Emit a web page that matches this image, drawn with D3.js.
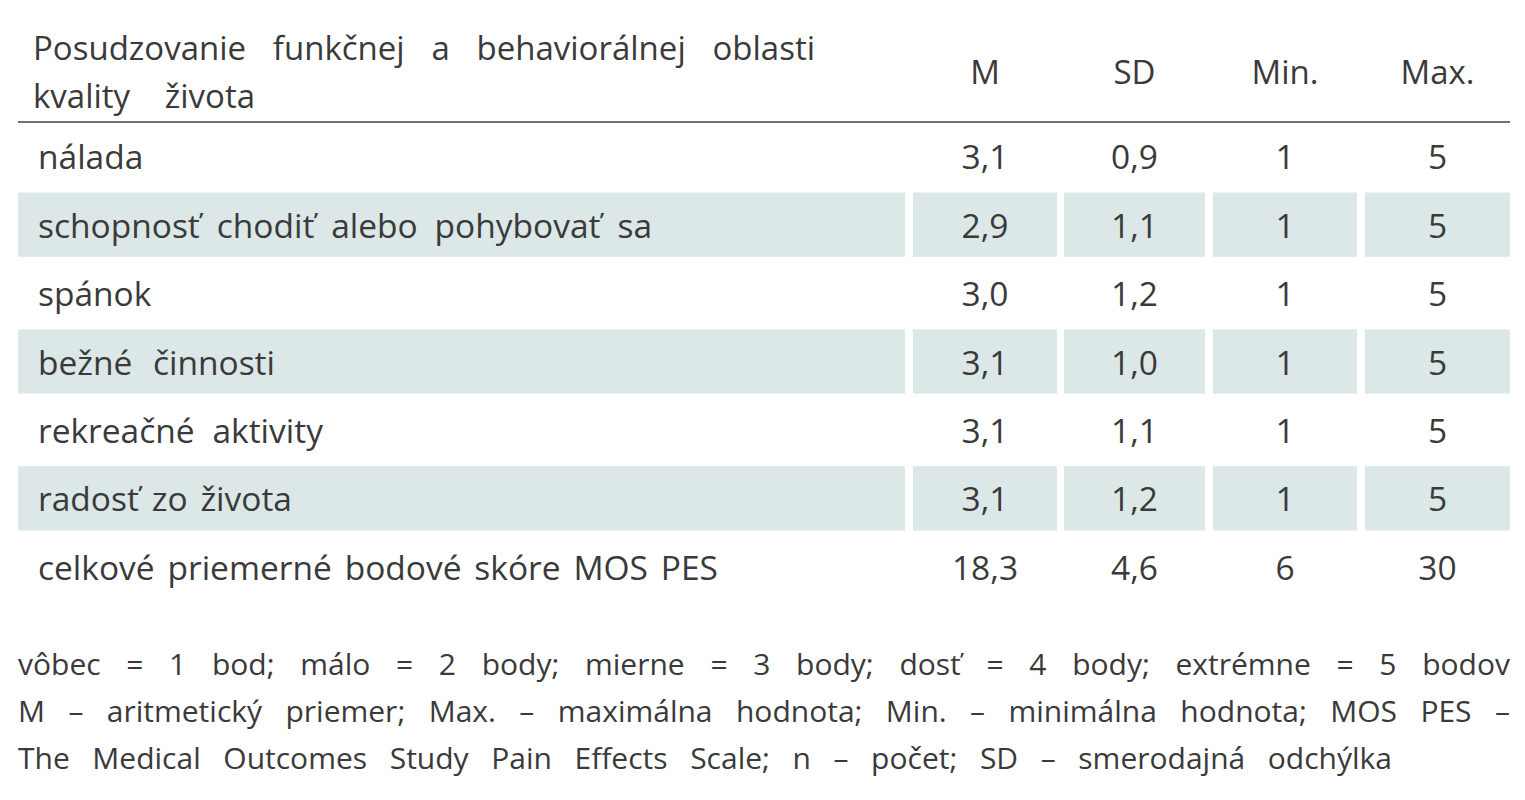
<!DOCTYPE html>
<html><head><meta charset="utf-8">
<script src="https://cdn.jsdelivr.net/npm/d3@7"></script>
<style>body{margin:0;background:#fff}</style></head>
<body><svg id="c" width="1525" height="800"></svg>
<script>
const headerLines = ["Posudzovanie funkčnej a behaviorálnej oblasti","kvality života"];
const columns = ["M","SD","Min.","Max."];
const categories = ["nálada","schopnosť chodiť alebo pohybovať sa","spánok","bežné činnosti","rekreačné aktivity","radosť zo života","celkové priemerné bodové skóre MOS PES"];
const M = ["3,1","2,9","3,0","3,1","3,1","3,1","18,3"];
const SD = ["0,9","1,1","1,2","1,0","1,1","1,2","4,6"];
const MIN = ["1","1","1","1","1","1","6"];
const MAX = ["5","5","5","5","5","5","30"];
const notes = ["vôbec = 1 bod; málo = 2 body; mierne = 3 body; dosť = 4 body; extrémne = 5 bodov",
"M – aritmetický priemer; Max. – maximálna hodnota; Min. – minimálna hodnota; MOS PES –",
"The Medical Outcomes Study Pain Effects Scale; n – počet; SD – smerodajná odchýlka"];
const svg = d3.select("#c");
const font = "'Open Sans', 'Noto Sans', sans-serif", col = "#3a3a3a";
const y = d3.scaleBand().domain(d3.range(categories.length)).range([122, 601]).paddingInner(0.06).paddingOuter(0.03);
const cols = [[18,905],[913,1057],[1064,1205],[1213,1357],[1365,1510]];
const vals = [M,SD,MIN,MAX];
function fit(el, target){ const n=(el.text().match(/ /g)||[]).length; const l=el.node().getComputedTextLength(); if(n) el.attr("word-spacing",(target-l)/n); }
svg.append("line").attr("x1",18).attr("x2",1510).attr("y1",122).attr("y2",122).attr("stroke","#444").attr("stroke-width",1.5);
headerLines.forEach((t,i)=>{const e=svg.append("text").attr("x",33).attr("y",47+i*48).attr("dominant-baseline","central")
  .attr("font-family",font).attr("font-size",33).attr("fill",col).text(t); fit(e,[782,222][i]);});
columns.forEach((t,i)=>svg.append("text").attr("x",(cols[i+1][0]+cols[i+1][1])/2).attr("y",71).attr("text-anchor","middle")
  .attr("dominant-baseline","central").attr("font-family",font).attr("font-size",33).attr("fill",col).text(t));
const widths=[105,614,90,237,285,254,680];
categories.forEach((c,r)=>{
  if(r%2===1) cols.forEach(([a,b])=>svg.append("rect").attr("x",a).attr("width",b-a).attr("y",y(r)).attr("height",y.bandwidth()).attr("fill","#dce7e7"));
  const cy = y(r)+y.bandwidth()/2;
  const e=svg.append("text").attr("x",38).attr("y",cy).attr("dominant-baseline","central").attr("font-family",font).attr("font-size",33.5).attr("fill",col).text(c);
  fit(e,widths[r]);
  vals.forEach((v,i)=>svg.append("text").attr("x",(cols[i+1][0]+cols[i+1][1])/2).attr("y",cy).attr("text-anchor","middle")
    .attr("dominant-baseline","central").attr("font-family",font).attr("font-size",33.5).attr("fill",col).text(v[r]));
});
notes.forEach((t,i)=>{
  const el = svg.append("text").attr("x",18).attr("y",663+i*47).attr("dominant-baseline","central").attr("font-family",font).attr("font-size",30).attr("fill",col).text(t);
  fit(el,[1492,1492,1374][i]);
});
</script></body></html>
